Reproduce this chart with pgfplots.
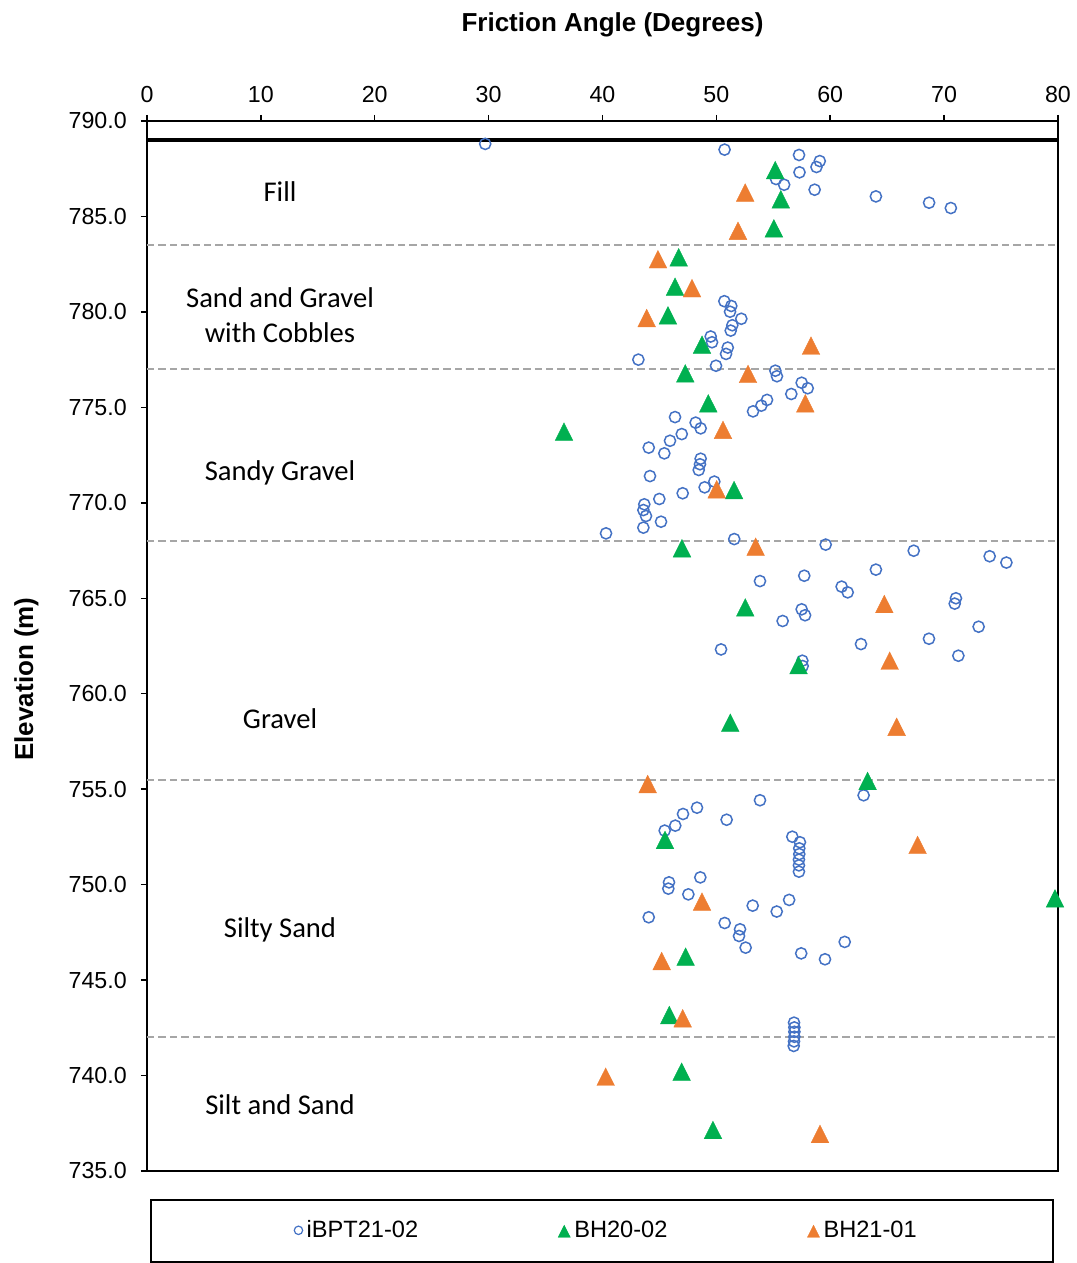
\documentclass[border=0pt]{standalone}
\usepackage{fontspec}
\setmainfont{Liberation Sans}
\newfontfamily\calibri{Carlito}
\usepackage{pgfplots}
\pgfplotsset{compat=1.18}

\definecolor{ptblue}{HTML}{4472C4}
\definecolor{bhgreen}{HTML}{00B050}
\definecolor{bhorange}{HTML}{ED7D31}
\definecolor{layergray}{HTML}{A6A6A6}

\newcommand{\ticksize}{\fontsize{11.6}{13.9}\selectfont}
\newcommand{\layersize}{\calibri\fontsize{14.3}{17.5}\selectfont}

\begin{document}
\begin{tikzpicture}
\useasboundingbox (-73.5pt,-46pt) rectangle (464.5pt,585.5pt);
\begin{axis}[
  at={(0,0)}, anchor=south west,
  scale only axis, width=455.5pt, height=525pt,
  xmin=0, xmax=80, ymin=735, ymax=790,
  xtick={0,10,...,80}, ytick={735,740,...,790},
  xtick pos=right, xticklabel pos=right, ytick pos=left,
  tick align=outside, major tick length=3pt,
  minor tick num=0,
  axis line style={line width=0.75pt},
  tick style={black, line width=0.75pt},
  ticklabel style={font=\ticksize},
  /pgf/number format/assume math mode=true,
  yticklabel style={/pgf/number format/.cd, fixed, fixed zerofill, precision=1},
  xticklabel shift=2.7pt, yticklabel shift=3.6pt,
  clip=false,
  xlabel={Friction Angle (Degrees)},
  ylabel={Elevation (m)},
  xlabel style={at={(axis description cs:0.511,1.0848)}, anchor=base, font=\bfseries\fontsize{13}{15.6}\selectfont},
  ylabel style={at={(axis description cs:-0.1251,0.4686)}, anchor=base, rotate=0, font=\bfseries\fontsize{13}{15.6}\selectfont},
  legend columns=3,
  legend image code/.code={\draw[#1] plot coordinates {(0pt,0pt)};},
  legend style={at={(axis description cs:0.5055,-0.0565)}, anchor=center,
    draw=none, fill=none, font=\fontsize{11.8}{14}\selectfont,
    /tikz/every odd column/.append style={column sep=0pt},
    /tikz/every even column/.append style={column sep=68pt}},
]

% layer boundaries
\addplot[black, line width=2pt, forget plot] coordinates {(0,789) (80,789)};
\addplot[layergray, line width=1pt, dash pattern=on 3.7pt off 2pt, forget plot] coordinates {(0,783.5) (80,783.5)};
\addplot[layergray, line width=1pt, dash pattern=on 3.7pt off 2pt, forget plot] coordinates {(0,777) (80,777)};
\addplot[layergray, line width=1pt, dash pattern=on 3.7pt off 2pt, forget plot] coordinates {(0,768) (80,768)};
\addplot[layergray, line width=1pt, dash pattern=on 3.7pt off 2pt, forget plot] coordinates {(0,755.5) (80,755.5)};
\addplot[layergray, line width=1pt, dash pattern=on 3.7pt off 2pt, forget plot] coordinates {(0,742) (80,742)};

% iBPT21-02
\addplot[only marks, mark=o, mark size=2.8pt, ptblue, line width=0.75pt,
  legend image post style={mark size=2.1pt, line width=0.6pt}] coordinates {
(29.70,788.80) (50.72,788.50) (57.26,788.22) (59.08,787.90) (58.79,787.59)
(57.30,787.31) (55.24,786.96) (55.95,786.66) (58.63,786.40) (64.01,786.05)
(68.68,785.72) (70.59,785.44)
(50.70,780.56) (51.31,780.31) (51.20,780.01) (52.19,779.64) (51.40,779.30)
(51.26,779.02) (49.50,778.71) (49.62,778.41) (51.00,778.13) (50.85,777.80)
(43.15,777.50) (49.97,777.18)
(55.18,776.92) (55.32,776.63) (57.49,776.29) (58.02,776.00) (56.58,775.70)
(54.45,775.39) (53.95,775.09) (53.22,774.79) (46.37,774.49) (48.18,774.20)
(48.62,773.90) (46.96,773.60) (45.93,773.25) (44.06,772.89) (45.43,772.59)
(48.62,772.31) (48.56,772.02) (48.45,771.72) (44.17,771.40) (49.82,771.11)
(48.97,770.81) (47.04,770.50) (44.99,770.20) (43.67,769.92) (43.59,769.62)
(43.82,769.31) (45.14,769.01) (43.59,768.70) (40.31,768.40) (51.57,768.10)
(59.60,767.81) (67.33,767.49) (74.00,767.20) (75.47,766.87) (64.01,766.50)
(57.72,766.18) (53.83,765.90) (61.00,765.61) (61.53,765.31) (71.04,765.00)
(70.93,764.72) (57.49,764.42) (57.79,764.11) (55.82,763.81) (73.03,763.51)
(68.67,762.88) (62.70,762.60) (50.41,762.32) (71.25,761.99) (57.55,761.73)
(57.58,761.45)
(62.93,754.68) (53.83,754.42) (48.30,754.03) (47.07,753.70) (50.90,753.40)
(46.39,753.09) (45.46,752.83) (56.67,752.51) (57.34,752.22) (57.28,751.90)
(57.28,751.60) (57.25,751.31) (57.25,751.01) (57.25,750.68) (48.59,750.38)
(45.84,750.12) (45.78,749.79) (47.54,749.49) (56.39,749.20) (53.19,748.90)
(55.30,748.59) (44.06,748.29) (50.73,747.99) (52.08,747.66) (51.99,747.31)
(61.27,747.00) (52.57,746.70) (57.45,746.40) (59.54,746.09)
(56.82,742.77) (56.85,742.52) (56.85,742.29) (56.85,742.03) (56.82,741.79)
(56.79,741.55)
};
\addlegendentry{iBPT21-02}

% BH20-02
\addplot[only marks, mark=triangle*, mark size=5.1pt, bhgreen,
  mark options={fill=bhgreen, draw=bhgreen, line width=0.2pt, yshift=-1.47pt, yscale=1.15},
  legend image post style={mark size=3.5pt}] coordinates {
(55.17,787.43) (55.66,785.90) (55.05,784.38) (46.69,782.86) (46.37,781.32)
(45.75,779.82) (48.74,778.28) (47.27,776.78) (49.29,775.21) (36.62,773.73)
(51.55,770.67) (46.98,767.62) (52.54,764.52) (57.22,761.50) (51.22,758.48)
(63.28,755.43) (45.49,752.34) (79.74,749.28) (47.30,746.23) (45.87,743.17)
(46.95,740.20) (49.70,737.15)
};
\addlegendentry{BH20-02}

% BH21-01
\addplot[only marks, mark=triangle*, mark size=5.1pt, bhorange,
  mark options={fill=bhorange, draw=bhorange, line width=0.2pt, yshift=-1.47pt, yscale=1.15},
  legend image post style={mark size=3.5pt}] coordinates {
(52.53,786.25) (51.90,784.25) (44.87,782.76) (47.86,781.24) (43.88,779.68)
(58.31,778.23) (52.78,776.75) (57.81,775.21) (50.58,773.82) (50.03,770.71)
(53.45,767.70) (64.75,764.70) (65.22,761.73) (65.83,758.27) (43.97,755.27)
(67.67,752.08) (48.74,749.11) (45.20,746.00) (47.04,743.00) (40.28,739.94)
(59.10,736.94)
};
\addlegendentry{BH21-01}

% soil layer names
\node[font=\layersize, align=center] at (axis cs:11.68,786.28) {Fill};
\node[font=\layersize, align=center] at (axis cs:11.68,779.84) {Sand and Gravel\\with Cobbles};
\node[font=\layersize, align=center] at (axis cs:11.68,771.56) {Sandy Gravel};
\node[font=\layersize, align=center] at (axis cs:11.68,758.68) {Gravel};
\node[font=\layersize, align=center] at (axis cs:11.68,747.62) {Silty Sand};
\node[font=\layersize, align=center] at (axis cs:11.68,738.46) {Silt and Sand};
\end{axis}
% legend frame
\draw[black, line width=0.6pt] (2pt,-14.5pt) rectangle (453pt,-45.5pt);
\end{tikzpicture}
\end{document}
